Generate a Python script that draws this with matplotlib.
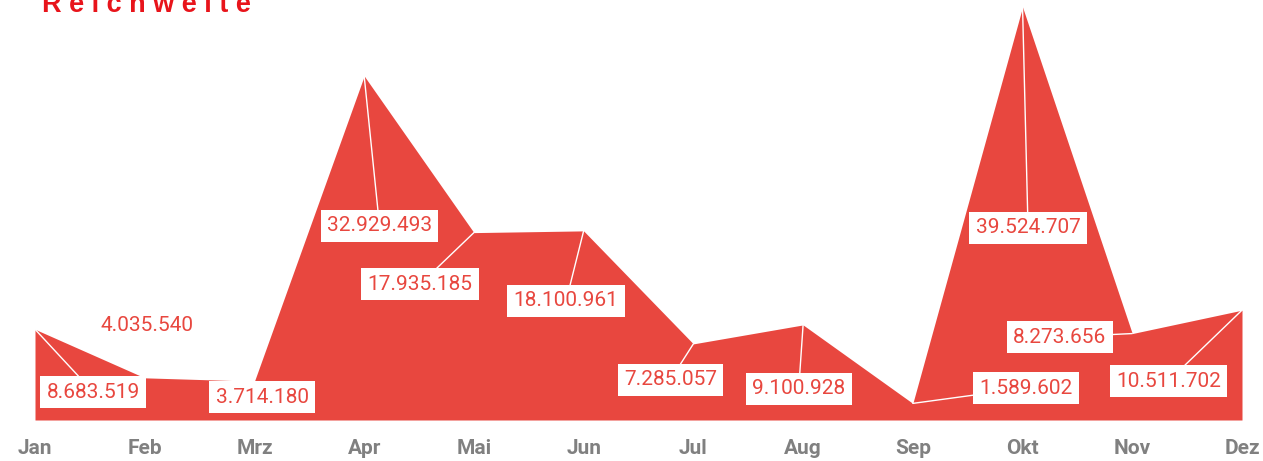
import matplotlib
matplotlib.use("Agg")
import matplotlib.pyplot as plt

monate = ["Jan", "Feb", "Mrz", "Apr", "Mai", "Jun", "Jul", "Aug", "Sep", "Okt", "Nov", "Dez"]
reichweite = [8683519, 4035540, 3714180, 32929493, 17935185, 18100961,
              7285057, 9100928, 1589602, 39524707, 8273656, 10511702]

# Position der Beschriftungen (Monatsindex, Wert)
label_pos = [(0.53, 2.68e6), (1.02, 9.0e6), (2.07, 2.2e6), (3.14, 18.57e6),
             (3.51, 13.0e6), (4.84, 11.39e6), (5.79, 3.83e6), (6.96, 2.97e6),
             (9.03, 3.06e6), (9.05, 18.38e6), (9.34, 7.94e6), (10.33, 3.73e6)]

rot = "#E8473F"

def fmt(v):
    return f"{v:,}".replace(",", ".")

fig = plt.figure(figsize=(12.63, 4.61), dpi=100)
ax = fig.add_axes([35 / 1263, 41 / 461, (1242 - 35) / 1263, 420 / 461])

x = list(range(len(monate)))
ax.fill_between(x, 0, reichweite, color=rot, lw=0)
ax.set_xlim(0, 11)
ax.set_ylim(0, 40.2e6)

for i, (v, (lx, ly)) in enumerate(zip(reichweite, label_pos)):
    if i == 1:
        # Feb: ohne Kasten, oberhalb
        ax.text(lx, ly, fmt(v), color=rot, fontsize=15, family="Roboto",
                ha="center", va="center")
        continue
    ax.annotate(fmt(v), xy=(i, v), xytext=(lx, ly), textcoords="data",
                color=rot, fontsize=15, family="Roboto",
                ha="center", va="center",
                bbox=dict(boxstyle="square,pad=0.3", fc="white", ec="none"),
                arrowprops=dict(arrowstyle="-", color="white", lw=1,
                                shrinkA=0, shrinkB=0))

ax.set_xticks(x)
ax.set_xticklabels(monate, color="#808080", fontsize=15, fontweight="bold",
                   family="Roboto")
ax.tick_params(axis="x", length=0, pad=14)
ax.set_yticks([])
for s in ax.spines.values():
    s.set_visible(False)

fig.text(42 / 1263, 1 - 12 / 461, " ".join("Reichweite"), color="#E8141B",
         fontsize=19.5, fontweight="bold", family="Liberation Sans",
         ha="left", va="baseline")

fig.savefig("out.png", dpi=100)
